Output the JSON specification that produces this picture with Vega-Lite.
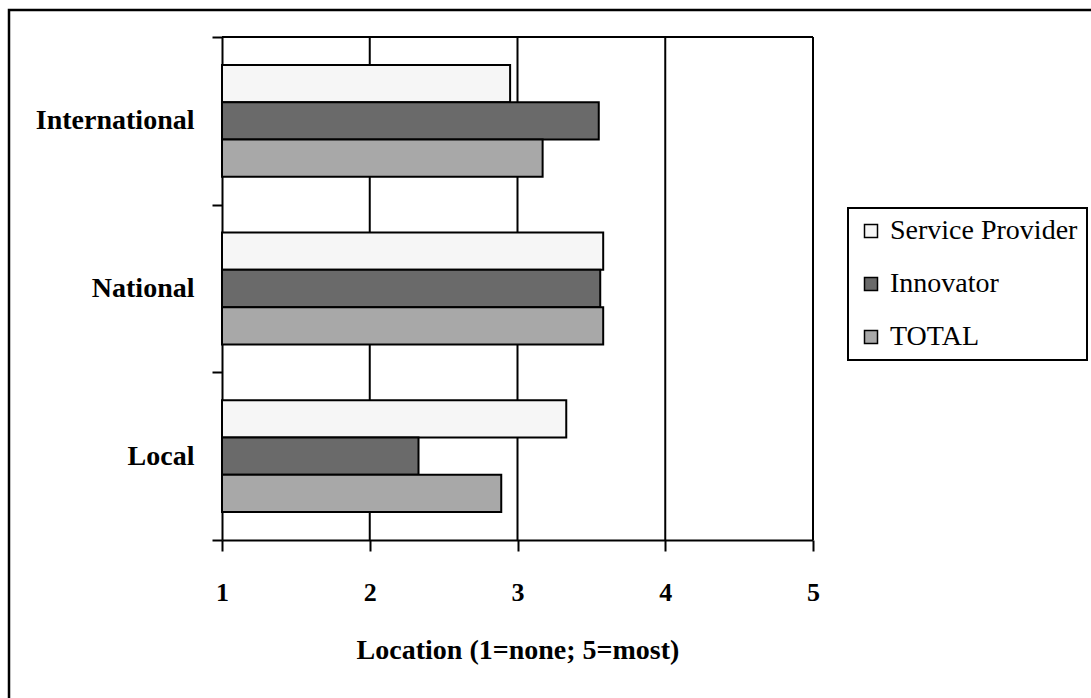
{
  "$schema": "https://vega.github.io/schema/vega-lite/v6.json",
  "width": 1085,
  "height": 691,
  "autosize": {"type": "none"},
  "padding": {"left": 9, "top": 10, "right": -3, "bottom": -3},
  "background": "white",
  "datasets": {
    "scores": [
      {"location": "International", "series": "Service Provider", "score": 2.95},
      {"location": "International", "series": "Innovator", "score": 3.55},
      {"location": "International", "series": "TOTAL", "score": 3.17},
      {"location": "National", "series": "Service Provider", "score": 3.58},
      {"location": "National", "series": "Innovator", "score": 3.56},
      {"location": "National", "series": "TOTAL", "score": 3.58},
      {"location": "Local", "series": "Service Provider", "score": 3.33},
      {"location": "Local", "series": "Innovator", "score": 2.33},
      {"location": "Local", "series": "TOTAL", "score": 2.89}
    ],
    "gridlines": [{"tick": 2}, {"tick": 3}, {"tick": 4}, {"tick": 5}]
  },
  "layer": [
    {
      "data": {"name": "gridlines"},
      "mark": {"type": "rule", "color": "black", "strokeWidth": 2},
      "encoding": {
        "x": {"field": "tick", "type": "quantitative", "title": "Location (1=none; 5=most)"},
        "y": {"datum": "International", "type": "nominal", "bandPosition": 0},
        "y2": {"datum": "Local", "bandPosition": 1}
      }
    },
    {
      "data": {"values": [{}]},
      "mark": {"type": "rule", "color": "black", "strokeWidth": 2},
      "encoding": {
        "x": {"datum": 1, "type": "quantitative", "title": "Location (1=none; 5=most)"},
        "x2": {"datum": 5},
        "y": {"datum": "International", "type": "nominal", "bandPosition": 0}
      }
    },
    {
      "data": {"name": "scores"},
      "mark": {"type": "bar", "stroke": "black", "strokeWidth": 2},
      "encoding": {
        "x": {
          "field": "score",
          "type": "quantitative",
          "scale": {"domain": [1, 5], "range": [213, 804], "nice": false, "zero": false},
          "axis": {
            "values": [1, 2, 3, 4, 5],
            "format": "d",
            "orient": "bottom",
            "offset": -161,
            "grid": false,
            "domainColor": "black",
            "domainWidth": 2,
            "tickColor": "black",
            "tickWidth": 2,
            "tickSize": 11,
            "labelFontSize": 26,
            "labelFontWeight": "bold",
            "labelColor": "black",
            "labelPadding": 28,
            "labelFlush": false,
            "labelOverlap": false,
            "title": "Location (1=none; 5=most)",
            "titleFontSize": 28,
            "titleFontWeight": "bold",
            "titleColor": "black",
            "titleBaseline": "alphabetic",
            "titleY": 118
          }
        },
        "x2": {"datum": 1},
        "y": {
          "field": "location",
          "type": "nominal",
          "scale": {
            "domain": ["International", "National", "Local"],
            "range": [27, 530],
            "paddingInner": 0,
            "paddingOuter": 0
          },
          "axis": {
            "orient": "left",
            "offset": -213,
            "tickBand": "extent",
            "grid": false,
            "domainColor": "black",
            "domainWidth": 2,
            "tickColor": "black",
            "tickWidth": 2,
            "tickSize": 10,
            "labelFontSize": 28,
            "labelFontWeight": "bold",
            "labelColor": "black",
            "labelPadding": 18,
            "title": null
          }
        },
        "yOffset": {
          "field": "series",
          "type": "nominal",
          "scale": {
            "domain": ["Service Provider", "Innovator", "TOTAL"],
            "paddingInner": 0,
            "paddingOuter": 0.75
          }
        },
        "color": {
          "field": "series",
          "type": "nominal",
          "scale": {
            "domain": ["Service Provider", "Innovator", "TOTAL"],
            "range": ["#f6f6f6", "#6a6a6a", "#a8a8a8"]
          },
          "legend": {
            "title": null,
            "orient": "none",
            "legendX": 839,
            "legendY": 198,
            "symbolType": "square",
            "symbolSize": 169,
            "symbolStrokeColor": "black",
            "symbolStrokeWidth": 1.5,
            "labelFontSize": 28,
            "labelColor": "black",
            "labelOffset": 5,
            "labelLimit": 0,
            "padding": 9,
            "rowPadding": 25,
            "strokeColor": "black",
            "fillColor": "white"
          }
        }
      }
    }
  ],
  "config": {
    "font": "Liberation Serif",
    "view": {"stroke": "black", "strokeWidth": 2.5},
    "legend": {"strokeWidth": 2}
  }
}
